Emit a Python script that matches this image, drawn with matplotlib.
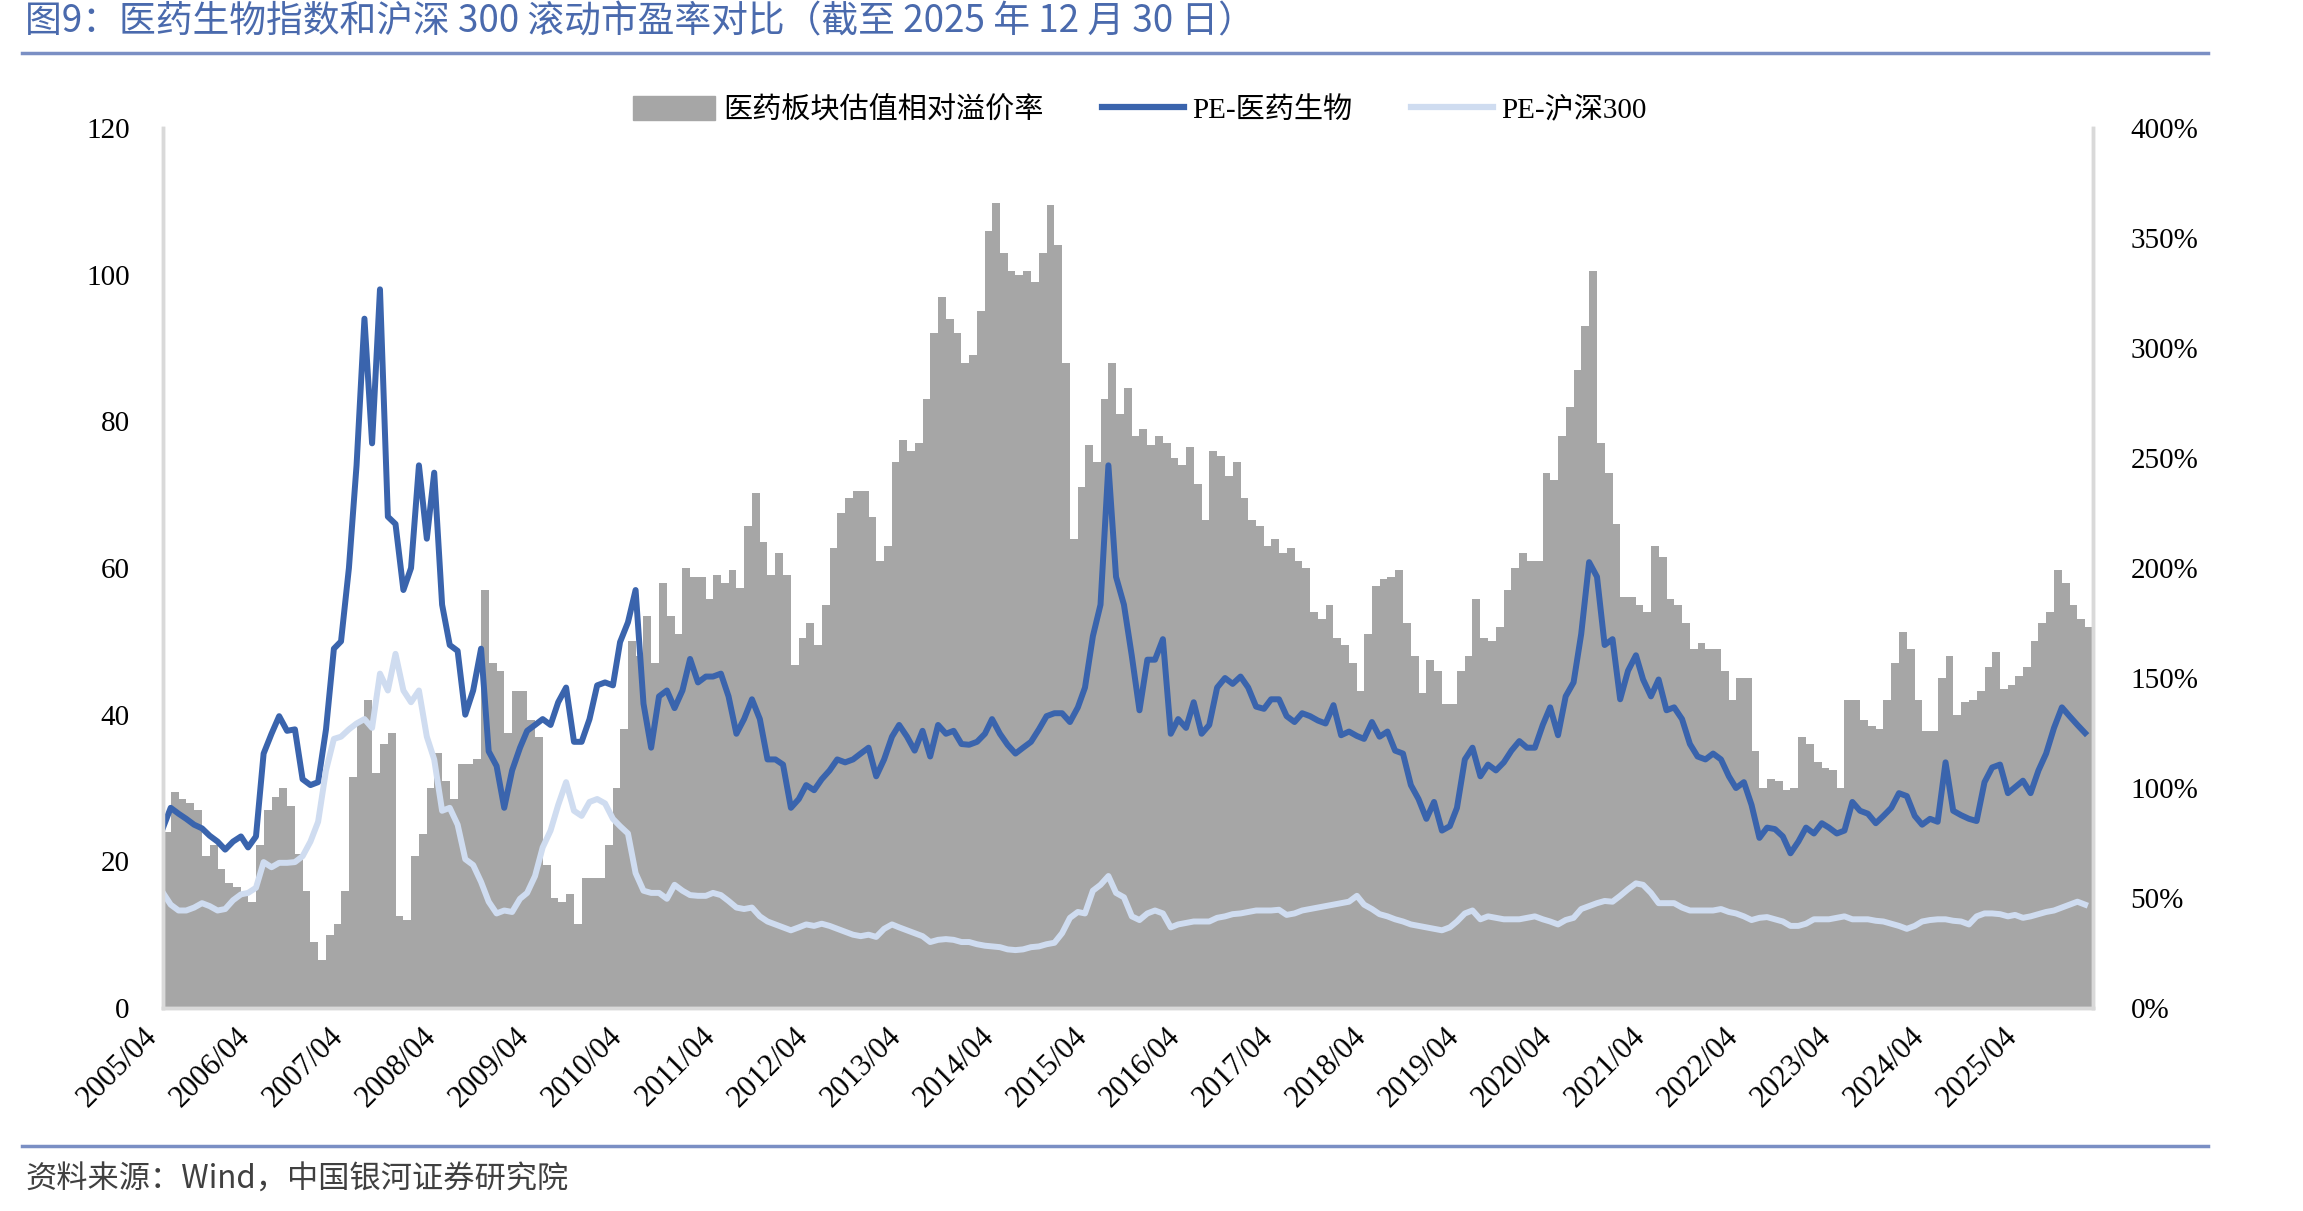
import numpy as np
import pandas as pd
import matplotlib
matplotlib.use("Agg")
import matplotlib.pyplot as plt
import matplotlib.dates as mdates
from matplotlib.lines import Line2D
from matplotlib.patches import Patch

plt.rcParams['font.family'] = ['Liberation Serif', 'Noto Sans CJK SC']

# monthly points, 2005/04 .. 2025/12
months = pd.date_range('2005-04-01', '2025-12-01', freq='MS')

# PE-医药生物
pe_med = [
    24.6, 27.3, 26.5, 25.8, 25.0, 24.5, 23.5, 22.7, 21.6,
    22.7, 23.4, 21.9, 23.4, 34.7, 37.4, 39.8, 37.8, 38.0, 31.2, 30.4, 30.8,
    38.0, 49.0, 50.0, 60.0, 74.0, 94.0, 77.0, 98.0, 67.0, 66.0, 57.0, 60.0,
    74.0, 64.0, 73.0, 55.0, 49.5, 48.7, 40.0, 43.3, 49.0, 35.0, 33.0, 27.3,
    32.4, 35.5, 37.8, 38.6, 39.4, 38.6, 41.7, 43.7, 36.3, 36.3, 39.4, 44.0,
    44.4, 44.0, 49.9, 52.6, 57.0, 41.5, 35.5, 42.5, 43.3, 40.9, 43.3, 47.6,
    44.4, 45.2, 45.2, 45.6, 42.5, 37.4, 39.4, 42.1, 39.4, 33.9, 33.9, 33.2,
    27.3, 28.5, 30.4, 29.7, 31.2, 32.4, 33.9, 33.5, 33.9, 34.7, 35.5, 31.6,
    33.9, 37.0, 38.6, 37.0, 35.1, 37.8, 34.3, 38.6, 37.4, 37.8, 36.0, 35.9,
    36.3, 37.4, 39.4, 37.4, 35.9, 34.7, 35.5, 36.3, 38.0, 39.8, 40.2, 40.2,
    39.0, 41.0, 43.7, 50.7, 55.0, 74.0, 58.8, 55.0, 48.0, 40.6, 47.5, 47.5,
    50.3, 37.4, 39.4, 38.2, 41.7, 37.4, 38.6, 43.7, 45.0, 44.2, 45.2, 43.7,
    41.1, 40.8, 42.1, 42.1, 39.8, 39.0, 40.2, 39.8, 39.2, 38.8, 41.3, 37.2,
    37.7, 37.1, 36.7, 39.0, 37.0, 37.7, 35.1, 34.7, 30.4, 28.5, 25.8, 28.1,
    24.2, 24.8, 27.3, 33.9, 35.5, 31.6, 33.2, 32.4, 33.5, 35.1, 36.4, 35.5,
    35.5, 38.6, 41.0, 37.2, 42.5, 44.4, 51.0, 60.8, 58.8, 49.5, 50.3, 42.1,
    46.0, 48.1, 44.8, 42.5, 44.8, 40.6, 41.0, 39.4, 36.0, 34.3, 33.9, 34.7,
    33.9, 31.6, 30.0, 30.8, 27.7, 23.2, 24.6, 24.4, 23.4, 21.1, 22.7, 24.6,
    23.8, 25.2, 24.6, 23.8, 24.2, 28.1, 26.9, 26.5, 25.2, 26.2, 27.3, 29.3,
    28.9, 26.2, 25.0, 25.8, 25.4, 33.5, 26.9, 26.3, 25.8, 25.5, 30.8, 32.8,
    33.2, 29.3, 30.1, 31.0, 29.3, 32.4, 34.7, 38.2, 41.0, 39.8, 38.6, 37.5,
]

# PE-沪深300
pe_hs300 = [
    15.7, 14.1, 13.3, 13.3, 13.7, 14.3, 13.9, 13.3, 13.5,
    14.7, 15.5, 15.7, 16.4, 19.9, 19.2, 19.8, 19.8, 19.9, 20.7, 22.7, 25.4,
    32.4, 36.7, 37.0, 38.0, 38.8, 39.4, 38.2, 45.6, 43.3, 48.3, 43.3, 41.7,
    43.3, 37.0, 33.9, 26.9, 27.3, 25.0, 20.3, 19.5, 17.2, 14.5, 12.9, 13.3,
    13.1, 14.9, 15.7, 18.0, 21.9, 24.2, 27.7, 30.8, 26.9, 26.2, 28.1, 28.5,
    27.9, 25.8, 24.8, 23.8, 18.4, 16.0, 15.7, 15.7, 14.9, 16.8, 16.0, 15.4,
    15.3, 15.3, 15.7, 15.4, 14.6, 13.7, 13.5, 13.7, 12.5, 11.8, 11.4, 11.0,
    10.6, 11.0, 11.4, 11.2, 11.5, 11.2, 10.8, 10.4, 10.0, 9.8, 10.0, 9.7,
    10.8, 11.4, 11.0, 10.6, 10.2, 9.8, 9.0, 9.3, 9.4, 9.3, 9.0, 9.0,
    8.7, 8.5, 8.4, 8.3, 8.0, 7.9, 8.0, 8.3, 8.4, 8.7, 8.9, 10.2,
    12.3, 13.1, 12.9, 16.0, 16.8, 18.0, 15.7, 15.1, 12.5, 12.0, 12.9, 13.3,
    12.9, 11.0, 11.4, 11.6, 11.8, 11.8, 11.8, 12.3, 12.5, 12.8, 12.9, 13.1,
    13.3, 13.3, 13.3, 13.4, 12.7, 12.9, 13.3, 13.5, 13.7, 13.9, 14.1, 14.3,
    14.5, 15.3, 14.1, 13.5, 12.8, 12.5, 12.1, 11.8, 11.4, 11.2, 11.0, 10.8,
    10.6, 11.0, 11.8, 12.9, 13.3, 12.1, 12.5, 12.3, 12.1, 12.1, 12.1, 12.3,
    12.5, 12.1, 11.8, 11.4, 12.0, 12.3, 13.5, 13.9, 14.3, 14.6, 14.5, 15.3,
    16.2, 17.0, 16.8, 15.7, 14.3, 14.3, 14.3, 13.7, 13.3, 13.3, 13.3, 13.3,
    13.5, 13.1, 12.9, 12.5, 12.0, 12.3, 12.4, 12.1, 11.8, 11.2, 11.2, 11.5,
    12.1, 12.1, 12.1, 12.3, 12.5, 12.1, 12.1, 12.1, 11.9, 11.8, 11.5, 11.2,
    10.8, 11.2, 11.8, 12.0, 12.1, 12.1, 11.9, 11.8, 11.4, 12.5, 12.9, 12.9,
    12.8, 12.5, 12.7, 12.3, 12.5, 12.8, 13.1, 13.3, 13.7, 14.1, 14.5, 14.1,
]

# 医药板块估值相对溢价率 (%)
premium = [
    80, 98, 95, 93, 90, 69, 74, 63, 57,
    55, 52, 48, 74, 90, 96, 100, 92, 70, 53, 30, 22,
    33, 38, 53, 105, 131, 140, 107, 120, 125, 42, 40, 69,
    79, 100, 116, 103, 95, 111, 111, 113, 190, 157, 153, 125,
    144, 144, 131, 123, 65, 50, 48, 52, 38, 59, 59, 59,
    74, 100, 127, 167, 160, 178, 157, 193, 178, 170, 200, 196,
    196, 186, 197, 193, 199, 191, 219, 234, 212, 197, 207, 197,
    156, 168, 175, 165, 183, 209, 225, 232, 235, 235, 223, 203,
    210, 248, 258, 253, 257, 277, 307, 323, 313, 307, 293, 297,
    317, 353, 366, 343, 335, 333, 335, 330, 343, 365, 347, 293,
    213, 237, 256, 248, 277, 293, 270, 282, 260, 263, 256, 260,
    257, 250, 247, 255, 238, 222, 253, 251, 242, 248, 232, 222,
    219, 210, 213, 207, 209, 203, 200, 180, 177, 183, 168, 165,
    157, 144, 170, 192, 195, 196, 199, 175, 160, 143, 158, 153,
    138, 138, 153, 160, 186, 168, 167, 173, 190, 200, 207, 203,
    203, 243, 240, 260, 273, 290, 310, 335, 257, 243, 220, 187,
    187, 183, 180, 210, 205, 186, 183, 175, 163, 166, 163, 163,
    153, 140, 150, 150, 117, 100, 104, 103, 99, 100, 123, 120,
    112, 109, 108, 100, 140, 140, 131, 128, 127, 140, 157, 171,
    163, 140, 126, 126, 150, 160, 133, 139, 140, 144, 155, 162,
    145, 147, 151, 155, 167, 175, 180, 199, 193, 183, 177, 173,
]

tick_years = list(range(2005, 2026))
tick_labels = [f'{y}/04' for y in tick_years]

GRAY = '#a6a6a6'
BLUE = '#3a64ad'
LIGHT = '#cfdcf0'
SPINE = '#d9d9d9'

x = mdates.date2num(months)
edges = np.append(x, mdates.date2num(pd.Timestamp('2026-01-01')))

fig = plt.figure(figsize=(23.03, 12.11), dpi=100)
ax = fig.add_axes([0.0708, 0.1676, 0.838, 0.7267])

# premium bars on the right scale
ax.stairs(premium, edges, fill=True, color=GRAY, linewidth=0)
ax.set_ylim(0, 400)
ax.set_yticks(range(0, 401, 50))
ax.yaxis.set_major_formatter(lambda v, p: f'{v:.0f}%')

ax2 = ax.twinx()
ax2.plot(x, pe_med, color=BLUE, lw=4.3, solid_joinstyle='round')
ax2.plot(x, pe_hs300, color=LIGHT, lw=4.3, solid_joinstyle='round')
ax2.set_ylim(0, 120)
ax2.set_yticks(range(0, 121, 20))

ax.yaxis.tick_right()
ax2.yaxis.tick_left()
ax.tick_params(axis='y', length=0, pad=27, labelsize=21)
ax2.tick_params(axis='y', length=0, pad=24, labelsize=21)

ax.set_xlim(edges[0], edges[-1])
ax.set_xticks(mdates.date2num([pd.Timestamp(f'{y}-04-01') for y in tick_years]))
ax.set_xticklabels(tick_labels, rotation=45, ha='right', va='top')
ax.tick_params(axis='x', length=0, pad=10, labelsize=22)

for a in (ax, ax2):
    a.spines['top'].set_visible(False)
    for s in ('left', 'right', 'bottom'):
        a.spines[s].set_color(SPINE)
        a.spines[s].set_linewidth(2.5)

handles = [Patch(facecolor=GRAY, edgecolor=GRAY),
           Line2D([], [], color=BLUE, lw=4.5),
           Line2D([], [], color=LIGHT, lw=4.5)]
labels = ['医药板块估值相对溢价率', 'PE-医药生物', 'PE-沪深300']
fig.legend(handles, labels, loc='center', bbox_to_anchor=(0.495, 0.909),
           ncol=3, frameon=False, fontsize=21, handlelength=2.8,
           handleheight=0.9, handletextpad=0.3, columnspacing=2.0)

fig.text(0.011, 0.982, '图9：医药生物指数和沪深 300 滚动市盈率对比（截至 2025 年 12 月 30 日）',
         fontsize=26.5, color='#4a6aad', va='center', ha='left',
         family=['Noto Sans CJK SC', 'DejaVu Sans'])
fig.add_artist(Line2D([0.0096, 0.9587], [0.956, 0.956], transform=fig.transFigure,
                      color='#7a8fc4', lw=2.5))
fig.add_artist(Line2D([0.0096, 0.9587], [0.0537, 0.0537], transform=fig.transFigure,
                      color='#7a8fc4', lw=2.5))
fig.text(0.011, 0.0256, '资料来源：Wind，中国银河证券研究院', fontsize=22.5,
         color='#404040', va='center', ha='left', style='italic',
         family=['Noto Sans CJK SC', 'DejaVu Sans'])

fig.savefig('out.png', dpi=100)
